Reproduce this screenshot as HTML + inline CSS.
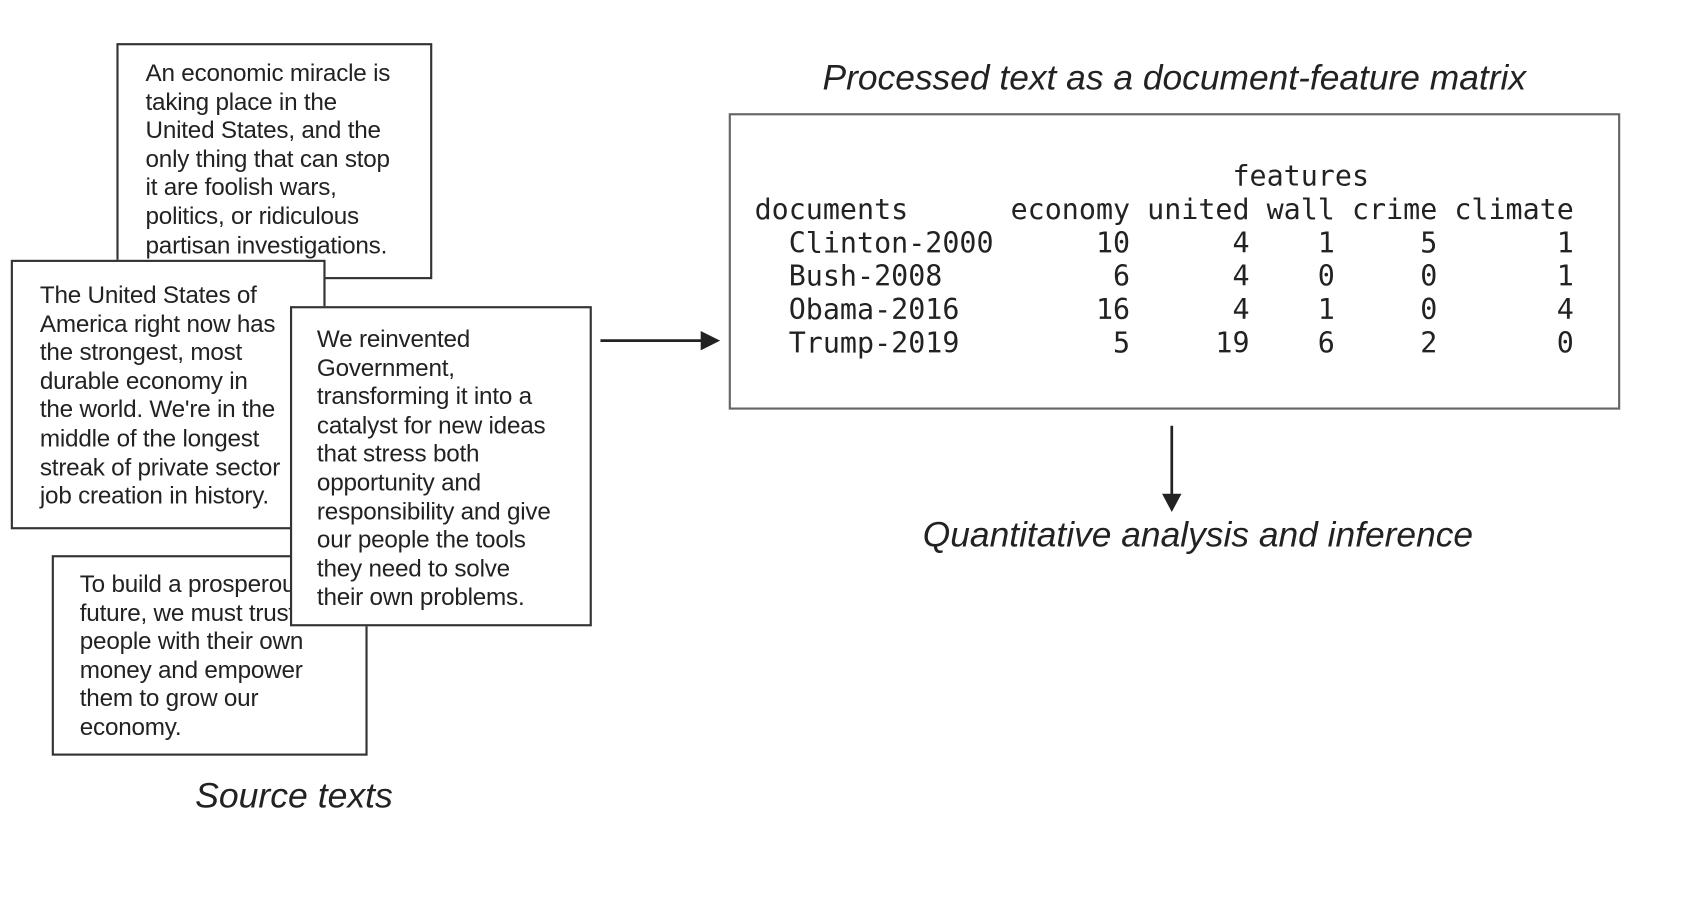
<!DOCTYPE html>
<html><head><meta charset="utf-8"><style>
body{margin:0;width:1690px;height:920px;background:#fff;position:relative;overflow:hidden;font-family:"Liberation Sans",Arial,sans-serif;color:#222}
#w{position:absolute;left:0;top:0;width:1570px;height:855px;transform:scale(1.078);transform-origin:0 0}
.b{position:absolute;background:#fff;border:2px solid #333;box-sizing:border-box}
.t{position:absolute;font-size:22.5px;line-height:26.6px;white-space:pre;color:#222;letter-spacing:-0.2px}
.i{position:absolute;font-style:italic;white-space:nowrap;color:#222}
pre{position:absolute;margin:0;font-family:"DejaVu Sans Mono","Liberation Mono",monospace;font-size:26.3px;line-height:31px;color:#222}
</style></head><body><div id="w">
<div class="b" style="left:108px;top:40px;width:293px;height:219px"></div>
<div class="t" style="left:135px;top:55px">An economic miracle is
taking place in the
United States, and the
only thing that can stop
it are foolish wars,
politics, or ridiculous
partisan investigations.</div>
<div class="b" style="left:10px;top:241px;width:292px;height:250px"></div>
<div class="t" style="left:37px;top:261px">The United States of
America right now has
the strongest, most
durable economy in
the world. We're in the
middle of the longest
streak of private sector
job creation in history.</div>
<div class="b" style="left:48px;top:515px;width:293px;height:186px"></div>
<div class="t" style="left:74px;top:529px">To build a prosperous
future, we must trust
people with their own
money and empower
them to grow our
economy.</div>
<div class="b" style="left:269px;top:284px;width:280px;height:297px"></div>
<div class="t" style="left:294px;top:302px">We reinvented
Government,
transforming it into a
catalyst for new ideas
that stress both
opportunity and
responsibility and give
our people the tools
they need to solve
their own problems.</div>
<div class="i" style="left:181px;top:719px;font-size:33px">Source texts</div>
<svg style="position:absolute;left:0;top:0" width="1570" height="855">
<line x1="557" y1="316" x2="655" y2="316" stroke="#222" stroke-width="2.5"/>
<polygon points="668,316 650,307 650,325" fill="#222"/>
<line x1="1087" y1="395" x2="1087" y2="462" stroke="#222" stroke-width="2.5"/>
<polygon points="1087,475 1078,458 1096,458" fill="#222"/>
</svg>
<div class="i" style="left:763px;top:53px;font-size:32.8px">Processed text as a document-feature matrix</div>
<div class="b" style="left:676px;top:105px;width:827px;height:275px;border-color:#666"></div>
<pre style="left:700px;top:149px">                            features
documents      economy united wall crime climate
  Clinton-2000      10      4    1     5       1
  Bush-2008          6      4    0     0       1
  Obama-2016        16      4    1     0       4
  Trump-2019         5     19    6     2       0</pre>
<div class="i" style="left:856px;top:477px;font-size:32.8px">Quantitative analysis and inference</div>
</div></body></html>
